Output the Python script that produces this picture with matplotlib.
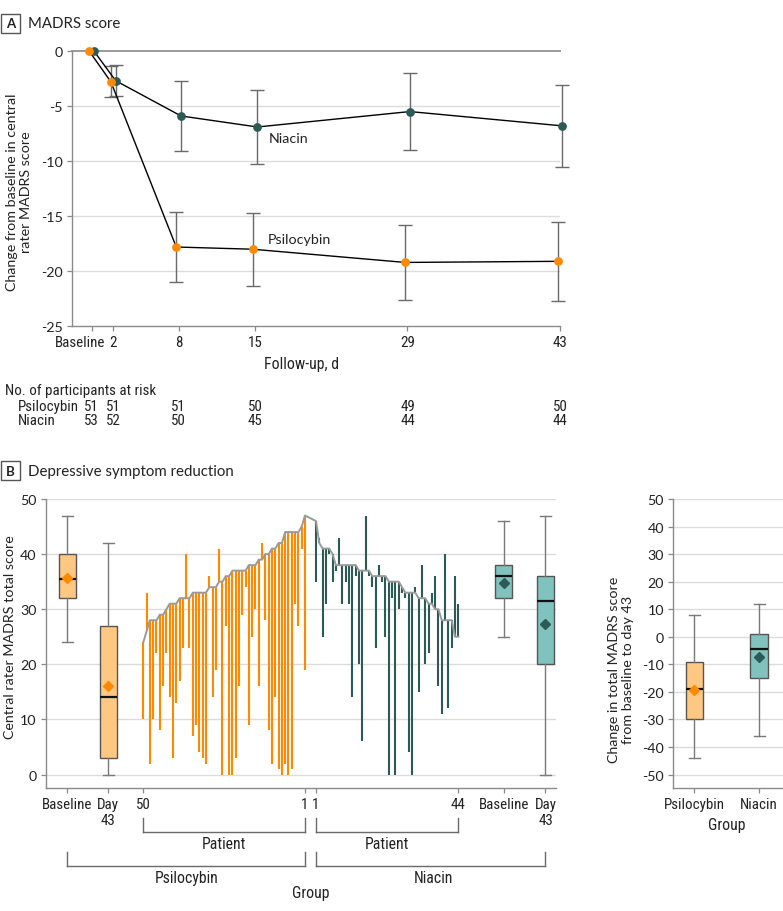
import numpy as np
import matplotlib
matplotlib.use('Agg')
import matplotlib.pyplot as plt
from matplotlib import font_manager as fm
from matplotlib import transforms
from matplotlib.patches import Rectangle
from matplotlib.lines import Line2D

# ---------------- data ----------------
days = [0, 2, 8, 15, 29, 43]
day_labels = ['Baseline', '2', '8', '15', '29', '43']
psilo_mean = [0, -2.8, -17.8, -18.0, -19.2, -19.1]
psilo_err = [0, 1.4, 3.2, 3.3, 3.4, 3.6]
niacin_mean = [0, -2.7, -5.9, -6.9, -5.5, -6.8]
niacin_err = [0, 1.4, 3.2, 3.4, 3.5, 3.7]
psilo_at_risk = [51, 51, 51, 50, 49, 50]
niacin_at_risk = [53, 52, 50, 45, 44, 44]

# waterfall (patients 50 -> 1 for psilocybin, 1 -> 44 for niacin)
psilo_baseline = [24, 26, 28, 28, 28, 29, 29, 30, 31, 31, 31, 32, 32, 32, 32, 33, 33, 33, 33, 33,
                  34, 34, 34, 35, 35, 36, 36, 37, 37, 37, 37, 37, 38, 38, 38, 39, 39, 40, 40, 41,
                  41, 42, 42, 44, 44, 44, 44, 44, 45, 47]
psilo_day43 = [10, 33, 2, 10, 22, 8, 16, 22, 14, 3, 13, 17, 23, 40, 23, 7, 9, 4, 3, 2,
               36, 14, 19, 41, 0, 27, 0, 0, 3, 16, 29, 34, 9, 25, 30, 16, 42, 28, 8, 2,
               14, 1, 0, 2, 0, 1, 31, 27, 41, 19]
niacin_baseline = [46, 42, 41, 41, 41, 40, 38, 38, 38, 38, 38, 38, 38, 37, 37, 37, 37, 36, 36, 36,
                   36, 36, 35, 35, 35, 35, 34, 33, 33, 33, 33, 32, 32, 32, 31, 31, 30, 30, 28, 28,
                   28, 28, 25, 25]
niacin_day43 = [35, 43, 25, 31, 40, 35, 37, 43, 31, 35, 31, 14, 36, 20, 6, 47, 36, 34, 23, 38,
                35, 25, 0, 32, 0, 30, 33, 32, 4, 0, 34, 15, 38, 20, 22, 33, 36, 16, 11, 40,
                12, 23, 36, 31]

# box statistics
box_labels_b = ['Baseline', 'Day\n43', '50', '1', '1', '44', 'Baseline', 'Day\n43']
psilo_box_base = dict(whislo=24, q1=32, med=35.5, q3=40, whishi=47, mean=35.7)
psilo_box_d43 = dict(whislo=0, q1=3, med=14, q3=27, whishi=42, mean=16)
niacin_box_base = dict(whislo=25, q1=32, med=36, q3=38, whishi=46, mean=34.8)
niacin_box_d43 = dict(whislo=0, q1=20, med=31.5, q3=36, whishi=47, mean=27.4)
change_groups = ['Psilocybin', 'Niacin']
change_psilo = dict(whislo=-44, q1=-30, med=-19, q3=-9, whishi=8, mean=-19.3)
change_niacin = dict(whislo=-36, q1=-15, med=-4.5, q3=1, whishi=12, mean=-7.4)

# ---------------- style ----------------
plt.rcParams['axes.unicode_minus'] = False
names = {f.name for f in fm.fontManager.ttflist}
REG = 'Lato' if 'Lato' in names else 'DejaVu Sans'
COND = REG
for n in ['Liberation Sans Narrow', 'Roboto Condensed', 'Open Sans Condensed', 'Noto Sans Condensed']:
    if n in names:
        COND = n
        break
plt.rcParams['font.family'] = [REG, 'DejaVu Sans']
CS = 10.8  # condensed text size

ORANGE = '#FF8A00'
TEAL = '#2C5A57'
ORANGE_FILL = '#FFC882'
TEAL_FILL = '#80C2BE'
GRID = '#DCDCDC'
SPINE = '#8A8A8A'
TXT = '#222222'

W, H = 783, 912
fig = plt.figure(figsize=(W / 100, H / 100), dpi=100)


def rect(x0, y0, x1, y1):
    return [x0 / W, 1 - y1 / H, (x1 - x0) / W, (y1 - y0) / H]


def fy(ypx):
    return 1 - ypx / H


def fx(xpx):
    return xpx / W


def style_axes(ax):
    for s in ['top', 'right']:
        ax.spines[s].set_visible(False)
    for s in ['left', 'bottom']:
        ax.spines[s].set_color(SPINE)
        ax.spines[s].set_linewidth(1.0)
    ax.tick_params(axis='both', direction='out', length=3.5, width=0.9, color=SPINE,
                   labelcolor=TXT)
    ax.tick_params(axis='y', labelsize=10.3, pad=3.2)
    ax.tick_params(axis='x', labelsize=CS, pad=2.6)


def panel_tag(letter, ypx, title):
    fig.patches.append(Rectangle((fx(1), fy(ypx + 9.5)), 19 / W, 19 / H, transform=fig.transFigure,
                                 facecolor='white', edgecolor='#555555', lw=1.0))
    fig.text(fx(10.5), fy(ypx), letter, ha='center', va='center', fontsize=9.5,
             fontweight='bold', color=TXT)
    fig.text(fx(28), fy(ypx), title, ha='left', va='center', fontsize=10.8, color=TXT)


# ================= Panel A =================
panel_tag('A', 24, 'MADRS score')
axA = fig.add_axes(rect(72, 52, 560, 327.3))
axA.set_xlim(-1.79, 43)
axA.set_ylim(-25, 0)
for yv in [-5, -10, -15, -20]:
    axA.axhline(yv, color=GRID, lw=1.0, zorder=0)
axA.axhline(0, color='#9A9A9A', lw=1.4, zorder=0.5, clip_on=False)
style_axes(axA)

d = np.array(days, dtype=float)
off = 0.22
for xs, m, e, col in [(d + off, niacin_mean, niacin_err, TEAL), (d - off, psilo_mean, psilo_err, ORANGE)]:
    m = np.array(m)
    e = np.array(e)
    axA.errorbar(xs[1:], m[1:], yerr=e[1:], fmt='none', ecolor='#6A6A6A', elinewidth=1.0,
                 capsize=5, capthick=1.0, zorder=2, clip_on=False)
for xs, m, col in [(d + off, niacin_mean, TEAL), (d - off, psilo_mean, ORANGE)]:
    axA.plot(xs, m, color='black', lw=1.0, zorder=3, clip_on=False)
    axA.plot(xs, m, 'o', color=col, ms=6.3, mec='none', zorder=4, clip_on=False)

axA.set_xticks(days)
axA.set_xticklabels(day_labels, fontfamily=COND, fontsize=CS)
axA.set_yticks([0, -5, -10, -15, -20, -25])
axA.set_yticklabels(['0', '-5', '-10', '-15', '-20', '-25'])
axA.get_xticklabels()[0].set_transform(axA.get_xticklabels()[0].get_transform() +
                                       transforms.ScaledTranslation(-11 / 100, 0, fig.dpi_scale_trans))
axA.text(16.3, -7.9, 'Niacin', ha='left', va='center', fontsize=10.3, color=TXT)
axA.text(16.2, -17.1, 'Psilocybin', ha='left', va='center', fontsize=10.3, color=TXT)
fig.text(fx(19), fy(192), 'Change from baseline in central\nrater MADRS score', rotation=90,
         ha='center', va='center', fontsize=10.3, color=TXT, multialignment='center', linespacing=1.2)
fig.text(fx(302), fy(365), 'Follow-up, d', ha='center', va='center', fontsize=CS + 0.5,
         fontfamily=COND, color=TXT)

# at-risk table
bt = transforms.blended_transform_factory(axA.transData, fig.transFigure)
fig.text(fx(5), fy(390.7), 'No. of participants at risk', ha='left', va='center', fontsize=CS,
         fontfamily=COND, color=TXT)
fig.text(fx(18.3), fy(406.7), 'Psilocybin', ha='left', va='center', fontsize=CS, fontfamily=COND, color=TXT)
fig.text(fx(18.3), fy(421), 'Niacin', ha='left', va='center', fontsize=CS, fontfamily=COND, color=TXT)
for dv, a, b in zip(days, psilo_at_risk, niacin_at_risk):
    axA.text(dv, fy(406.7), str(a), transform=bt, ha='center', va='center', fontsize=CS,
             fontfamily=COND, color=TXT)
    axA.text(dv, fy(421), str(b), transform=bt, ha='center', va='center', fontsize=CS,
             fontfamily=COND, color=TXT)

# ================= Panel B =================
panel_tag('B', 471.7, 'Depressive symptom reduction')
axB = fig.add_axes(rect(45.7, 500, 556, 789.3))
axB.set_xlim(45.7, 556)
axB.set_ylim(-2.5, 50)
for yv in range(0, 51, 10):
    axB.axhline(yv, color=GRID, lw=1.0, zorder=0)
style_axes(axB)

pos_psilo_box = [67.3, 108.3]
pos_niacin_box = [504, 545.5]
xp = np.linspace(143.3, 305, len(psilo_baseline))
xn = np.linspace(316, 458.3, len(niacin_baseline))


def draw_boxes(ax, stats, positions, fill, meancol, width, capw):
    st = [dict(s, fliers=[]) for s in stats]
    ax.bxp(st, positions=positions, widths=width, capwidths=capw, patch_artist=True, showmeans=True,
           showfliers=False, manage_ticks=False,
           boxprops=dict(facecolor=fill, edgecolor='#555555', lw=1.0),
           medianprops=dict(color='#111111', lw=1.6),
           whiskerprops=dict(color='#7A7A7A', lw=1.0),
           capprops=dict(color='#7A7A7A', lw=1.0),
           meanprops=dict(marker='D', markerfacecolor=meancol, markeredgecolor=meancol, markersize=5.5),
           zorder=3)


draw_boxes(axB, [psilo_box_base, psilo_box_d43], pos_psilo_box, ORANGE_FILL, ORANGE, 17, 11)
draw_boxes(axB, [niacin_box_base, niacin_box_d43], pos_niacin_box, TEAL_FILL, TEAL, 17, 11)

axB.vlines(xp, psilo_baseline, psilo_day43, color=ORANGE, lw=1.5, zorder=2)
axB.vlines(xn, niacin_baseline, niacin_day43, color=TEAL, lw=1.5, zorder=2)
axB.plot(np.concatenate([xp, xn]), np.concatenate([psilo_baseline, niacin_baseline]),
         color='#9A9A9A', lw=1.4, zorder=3)

tick_pos_b = pos_psilo_box + [xp[0], xp[-1], xn[0], xn[-1]] + pos_niacin_box
axB.set_xticks(tick_pos_b)
axB.set_xticklabels(box_labels_b, fontfamily=COND, fontsize=CS, linespacing=1.2)
axB.set_yticks(range(0, 51, 10))
fig.text(fx(10), fy(637), 'Central rater MADRS total score', rotation=90, ha='center', va='center',
         fontsize=10.3, color=TXT)

bB = transforms.blended_transform_factory(axB.transData, fig.transFigure)


def bracket(x0, x1, ytop, ybot, label, xlabel, ylab):
    for xx in (x0, x1):
        fig.lines.append(Line2D([xx, xx], [fy(ytop), fy(ybot)], transform=bB, color='#6A6A6A', lw=1.0))
    fig.lines.append(Line2D([x0, x1], [fy(ybot), fy(ybot)], transform=bB, color='#6A6A6A', lw=1.0))
    axB.text(xlabel, fy(ylab), label, transform=bB, ha='center', va='center', fontsize=CS + 0.5,
             fontfamily=COND, color=TXT)


bracket(xp[0], xp[-1], 819, 833, 'Patient', (xp[0] + xp[-1]) / 2, 845)
bracket(xn[0], xn[-1], 819, 833, 'Patient', (xn[0] + xn[-1]) / 2, 845)
bracket(pos_psilo_box[0], xp[-1], 853, 867, 'Psilocybin', (pos_psilo_box[0] + xp[-1]) / 2, 879)
bracket(xn[0], pos_niacin_box[1], 853, 867, 'Niacin', (xn[0] + pos_niacin_box[1]) / 2 + 3, 879)
fig.text(fx(310.7), fy(894), 'Group', ha='center', va='center', fontsize=CS + 0.5, fontfamily=COND, color=TXT)

# ================= Panel C =================
axC = fig.add_axes(rect(673.3, 500, 783, 789.3))
axC.set_xlim(-0.325, 1.37)
axC.set_ylim(-55, 50)
for yv in range(-50, 51, 10):
    axC.axhline(yv, color=GRID, lw=1.0, zorder=0)
style_axes(axC)
draw_boxes(axC, [change_psilo], [0], ORANGE_FILL, ORANGE, 0.267, 0.17)
draw_boxes(axC, [change_niacin], [1], TEAL_FILL, TEAL, 0.267, 0.17)
axC.set_xticks([0, 1])
axC.set_xticklabels(change_groups, fontfamily=COND, fontsize=CS)
yt = list(range(50, -51, -10))
axC.set_yticks(yt)
axC.set_yticklabels([str(v) for v in yt])
fig.text(fx(621), fy(670), 'Change in total MADRS score\nfrom baseline to day 43', rotation=90,
         ha='center', va='center', fontsize=10.3, color=TXT, multialignment='center', linespacing=1.2)
fig.text(fx(726.7), fy(826), 'Group', ha='center', va='center', fontsize=CS + 0.5, fontfamily=COND, color=TXT)

fig.savefig('out.png', dpi=100, facecolor='white')
